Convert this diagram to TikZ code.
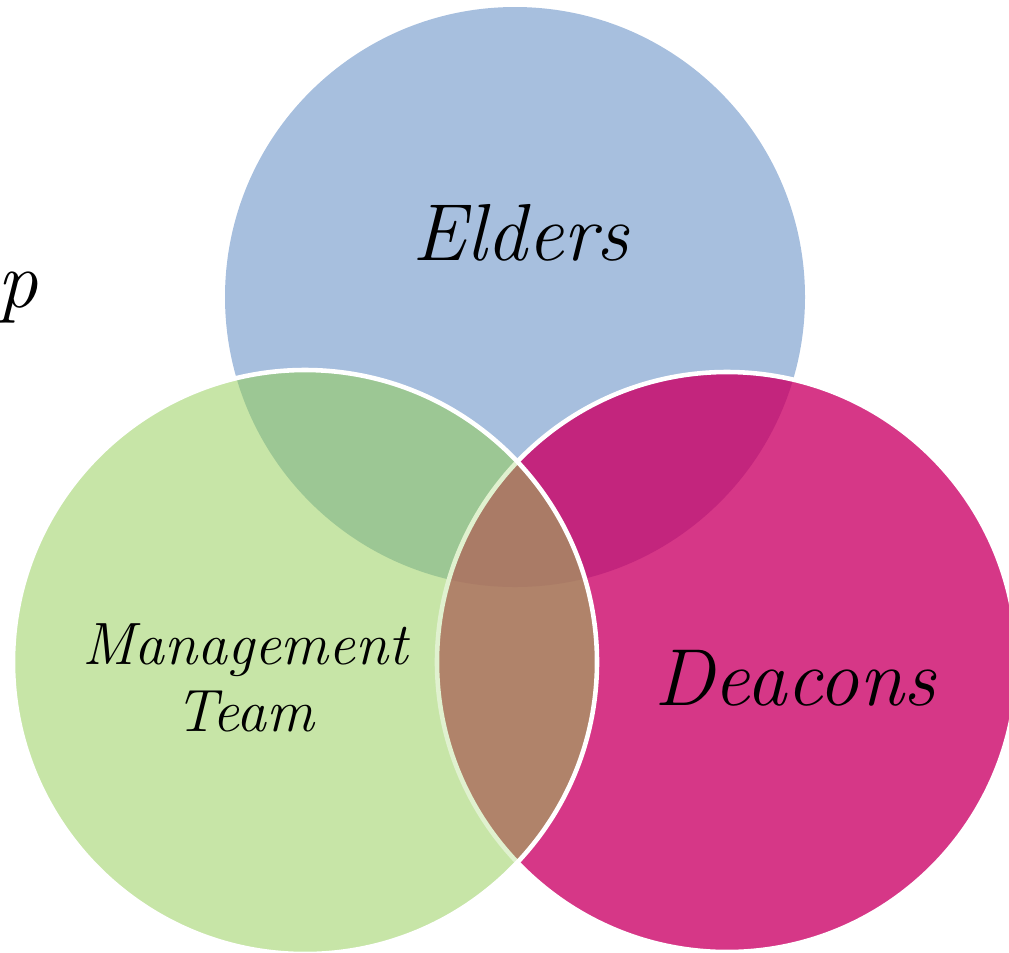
\documentclass[tikz,border=0pt]{standalone}
\definecolor{eldersblue}{HTML}{A7BFDE}
\definecolor{teamgreen}{HTML}{C7E5A7}
\definecolor{deaconspink}{HTML}{D63787}
\definecolor{eldteam}{HTML}{9CC794}
\definecolor{elddeac}{HTML}{C3257D}
\definecolor{teamdeac}{HTML}{B0836A}
\definecolor{allthree}{HTML}{AA7B66}
\tikzset{
  rim/.style={draw=white, line width=2.6pt},
  hand/.style={font=\fontsize{46}{50}\selectfont\itshape, text=black},
  handsmall/.style={font=\fontsize{34}{38}\selectfont\itshape, text=black, align=center}
}
\begin{document}
\begin{tikzpicture}
  \useasboundingbox (0,0) rectangle (20.18,-19.04);
  % centres
  \coordinate (e) at (10.30,-5.94);
  \coordinate (t) at (6.10,-13.24);
  \coordinate (d) at (14.54,-13.24);
  % elders
  \fill[eldersblue] (e) circle (5.80);
  % deacons
  \fill[deaconspink] (d) circle (5.80);
  \begin{scope}
    \clip (e) circle (5.80);
    \fill[elddeac] (d) circle (5.80);
  \end{scope}
  \draw[rim] (d) circle (5.80);
  % management team
  \fill[teamgreen] (t) circle (5.84);
  \begin{scope}
    \clip (t) circle (5.84);
    \fill[eldteam] (e) circle (5.80);
    \fill[teamdeac] (d) circle (5.80);
    \clip (d) circle (5.80);
    \fill[allthree] (e) circle (5.80);
  \end{scope}
  \begin{scope}
    \clip (t) circle (5.84);
    \draw[teamgreen!55!white, line width=2.6pt] (d) circle (5.80);
  \end{scope}
  \draw[rim] (t) circle (5.84);
  % labels
  \node[hand] (elders) at (10.42,-4.66) {Elders};
  \node[hand] (deacons) at (15.90,-13.56) {Deacons};
  \node[handsmall] (team) at (4.90,-13.55) {Management\\Team};
  \node[hand] (cut) at (0.35,-5.95) {p};
\end{tikzpicture}
\end{document}
